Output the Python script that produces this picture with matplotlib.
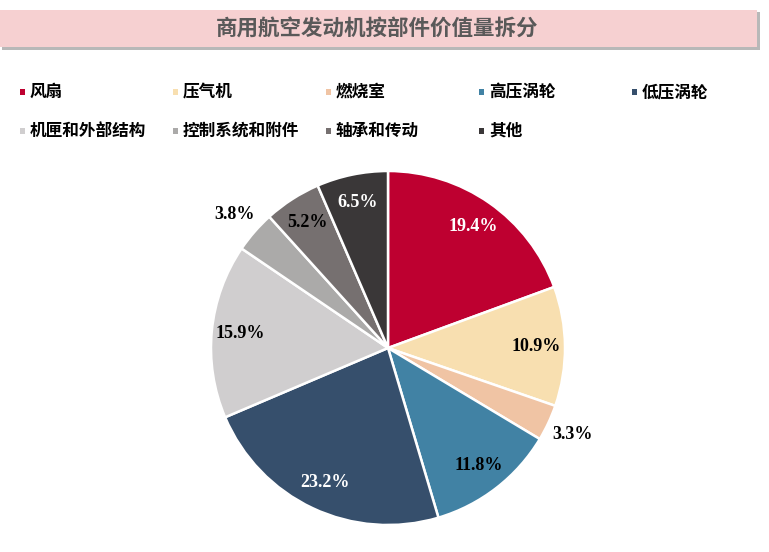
import matplotlib
matplotlib.use("Agg")
import matplotlib.pyplot as plt
from matplotlib.patches import Rectangle
import numpy as np

categories = ["风扇", "压气机", "燃烧室", "高压涡轮", "低压涡轮",
              "机匣和外部结构", "控制系统和附件", "轴承和传动", "其他"]
values = [19.4, 10.9, 3.3, 11.8, 23.2, 15.9, 3.8, 5.2, 6.5]
colors = ["#BE0030", "#F8DFB0", "#F0C4A4", "#4182A4", "#364F6C",
          "#D0CECF", "#ABAAA9", "#767070", "#3A3738"]
label_colors = ["white", "black", "black", "black", "white",
                "black", "black", "black", "white"]
title = "商用航空发动机按部件价值量拆分"

W, H = 769, 552
fig = plt.figure(figsize=(W / 100, H / 100), dpi=100)
fig.patch.set_facecolor("white")

def fx(px):
    return px / W

def fy(py):
    return 1 - py / H

cjk = ["Noto Sans CJK SC", "DejaVu Sans"]

# title banner with shadow
fig.patches.append(Rectangle((fx(2), fy(50)), fx(760) - fx(2), fy(12) - fy(50),
                             transform=fig.transFigure, facecolor="#B8B8B8",
                             edgecolor="none", zorder=0))
fig.patches.append(Rectangle((fx(0), fy(47)), fx(757), fy(10) - fy(47),
                             transform=fig.transFigure, facecolor="#F6D0D1",
                             edgecolor="none", zorder=1))
fig.text(fx(377), fy(29), title, ha="center", va="center", fontsize=15.5,
         fontweight="bold", color="#595959", family=cjk, zorder=2)

# legend
for i, name in enumerate(categories):
    col, row = i % 5, i // 5
    mx = 22 + 153 * col
    my = 92 + 39 * row
    fig.patches.append(Rectangle((fx(mx - 2.5), fy(my + 2.5)), fx(5), 5 / H,
                                 transform=fig.transFigure, facecolor=colors[i],
                                 edgecolor="none"))
    fig.text(fx(mx + 8), fy(my), name, ha="left", va="center", fontsize=12,
             fontweight="bold", color="black", family=cjk)

# pie
cx, cy, r = 388, 348, 177
ax = fig.add_axes([fx(cx - r), fy(cy + r), 2 * r / W, 2 * r / H])
wedges, _ = ax.pie(values, colors=colors, startangle=90, counterclock=False,
                   radius=1, wedgeprops=dict(edgecolor="white", linewidth=1.8))
ax.set_xlim(-1, 1)
ax.set_ylim(-1, 1)
ax.set_aspect("equal")
ax.axis("off")

for i, w in enumerate(wedges):
    ang = np.deg2rad((w.theta1 + w.theta2) / 2)
    outside = values[i] < 4.5
    d = 1.15 if outside else 0.84
    col = "black" if outside else label_colors[i]
    ax.text(d * np.cos(ang), d * np.sin(ang), f"{values[i]:.1f}%",
            ha="center", va="center", fontsize=13, fontweight="bold",
            color=col, family=["Liberation Serif", "DejaVu Serif"])

fig.savefig("out.png", dpi=100)
